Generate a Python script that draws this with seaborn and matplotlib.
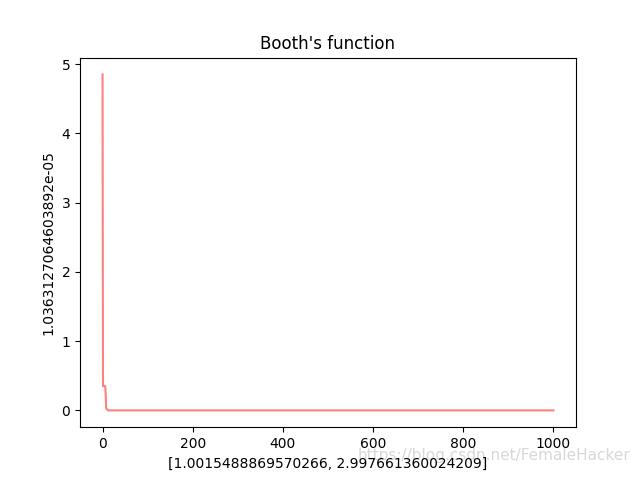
import numpy as np
import pandas as pd
import seaborn as sns
import matplotlib
matplotlib.use("Agg")
import matplotlib.pyplot as plt

# iteration index and loss value
iters = [0, 1, 6, 7, 8, 12, 50, 1000]
loss = [4.85, 0.35, 0.35, 0.22, 0.03, 0.0, 0.0, 0.0]

best_xy = "[1.0015488869570266, 2.997661360024209]"
best_val = "1.0363127064603892e-05"

df = pd.DataFrame({"iter": iters, "loss": loss})

fig, ax = plt.subplots(figsize=(6.4, 4.8), dpi=100)
sns.lineplot(data=df, x="iter", y="loss", ax=ax, color="r", alpha=0.5,
             linewidth=1.5)

ax.set_title("Booth's function")
ax.set_xlabel(best_xy)
ax.set_ylabel(best_val)

# blog watermark
fig.text(0.985, 0.035, "https://blog.csdn.net/FemaleHacker", ha="right",
         va="bottom", fontsize=11, color="#d8d8d8", zorder=-1)

fig.savefig("out.png")
